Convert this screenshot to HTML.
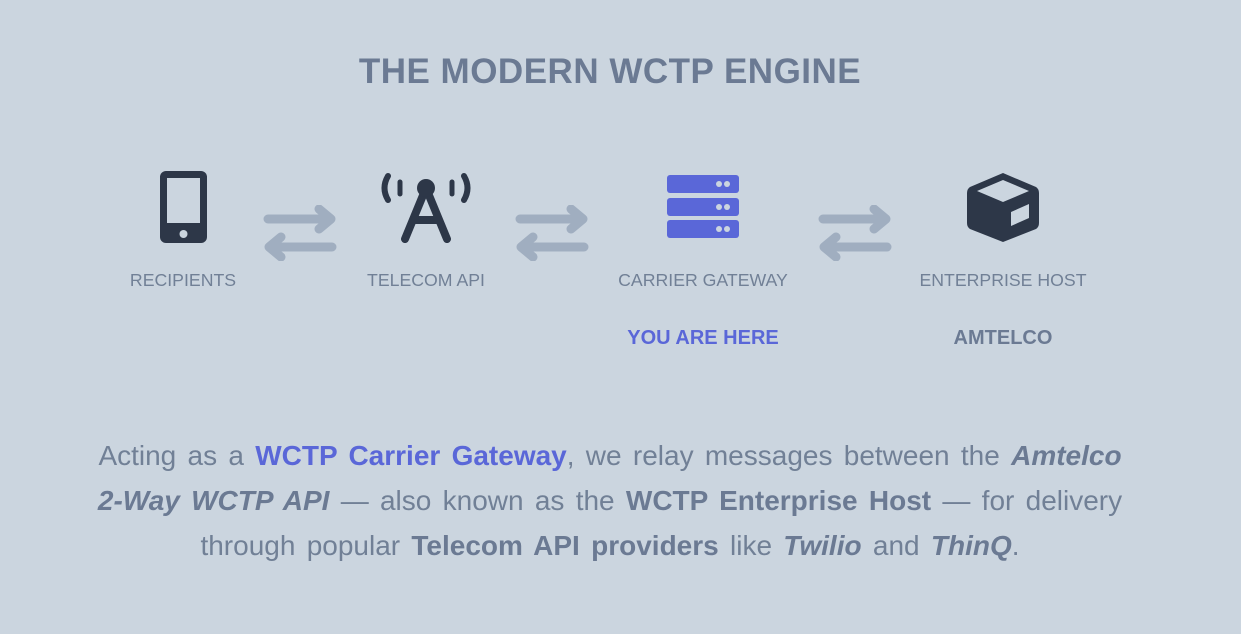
<!DOCTYPE html>
<html><head><meta charset="utf-8"><style>
body{margin:0;width:1241px;height:634px;background:#cbd5df;font-family:"Liberation Sans","DejaVu Sans",sans-serif;position:relative;overflow:hidden}
.t{position:absolute;left:0;width:1220px;text-align:center;top:52px;font-size:35px;font-weight:bold;color:#6b7a93;letter-spacing:0.5px}
.lab{position:absolute;top:270px;width:300px;text-align:center;font-size:17.7px;color:#718096}
.sub{position:absolute;top:327px;width:300px;text-align:center;font-size:20px;font-weight:bold}
svg{position:absolute}
.p{position:absolute;left:10px;width:1200px;top:433px;text-align:center;font-size:28px;word-spacing:3.5px;line-height:45px;color:#718096;white-space:nowrap}
.p b{color:#6b7a93}.p i{color:#6b7a93;font-weight:bold}
.p .hl{color:#5a67d8}
</style></head><body>
<div class="t">THE MODERN WCTP ENGINE</div>
<svg style="left:160px;top:171px" width="48" height="72"><rect x="0" y="0" width="47" height="72" rx="6" fill="#2d3748"/><rect x="7" y="7" width="33" height="45" fill="#cbd5df"/><circle cx="23.5" cy="63" r="4" fill="#cbd5df"/></svg>
<svg style="left:378px;top:170px" width="96" height="74" viewBox="0 0 96 74">
<g fill="none" stroke="#2d3748" stroke-linecap="round">
<path d="M10 6 Q3 18 10 30" stroke-width="6"/><path d="M86 6 Q93 18 86 30" stroke-width="6"/>
<path d="M22 12 L22 24" stroke-width="5"/><path d="M74 12 L74 24" stroke-width="5"/>
<path d="M48 18 L27 69 M48 18 L69 69 M36 50 L60 50" stroke-width="8"/></g>
<circle cx="48" cy="18" r="9" fill="#2d3748"/></svg>
<svg style="left:667px;top:175px" width="73" height="64">
<g fill="#5a67d8"><rect x="0" y="0" width="72" height="18" rx="3"/><rect x="0" y="23" width="72" height="18" rx="3"/><rect x="0" y="45" width="72" height="18" rx="3"/></g>
<g fill="#cbd5df"><circle cx="52" cy="9" r="3"/><circle cx="60" cy="9" r="3"/><circle cx="52" cy="32" r="3"/><circle cx="60" cy="32" r="3"/><circle cx="52" cy="54" r="3"/><circle cx="60" cy="54" r="3"/></g></svg>
<svg style="left:966px;top:171px" width="74" height="72" viewBox="0 0 74 72">
<path d="M37 2 L70 16 Q73 18 73 22 L73 52 Q73 56 70 58 L37 71 L4 58 Q1 56 1 52 L1 22 Q1 18 4 16 Z" fill="#2d3748"/>
<path d="M11 20 L37 9 L63 20 L37 31 Z" fill="#cbd5df"/>
<path d="M45 41 L63 33 L63 47 L45 55 Z" fill="#cbd5df"/></svg>
<svg style="left:262px;top:205px" width="76" height="56"><g stroke="#a0aec0" stroke-width="9" stroke-linecap="round" fill="none" stroke-linejoin="round"><path d="M6 14 H68 M57 4 L69 14 L57 24"/><path d="M70 42 H8 M19 32 L7 42 L19 52"/></g></svg>
<svg style="left:514px;top:205px" width="76" height="56"><g stroke="#a0aec0" stroke-width="9" stroke-linecap="round" fill="none" stroke-linejoin="round"><path d="M6 14 H68 M57 4 L69 14 L57 24"/><path d="M70 42 H8 M19 32 L7 42 L19 52"/></g></svg>
<svg style="left:817px;top:205px" width="76" height="56"><g stroke="#a0aec0" stroke-width="9" stroke-linecap="round" fill="none" stroke-linejoin="round"><path d="M6 14 H68 M57 4 L69 14 L57 24"/><path d="M70 42 H8 M19 32 L7 42 L19 52"/></g></svg>
<div class="lab" style="left:33px">RECIPIENTS</div>
<div class="lab" style="left:276px">TELECOM API</div>
<div class="lab" style="left:553px">CARRIER GATEWAY</div>
<div class="lab" style="left:853px">ENTERPRISE HOST</div>
<div class="sub" style="left:553px;color:#5a67d8">YOU ARE HERE</div>
<div class="sub" style="left:853px;color:#6b7a93">AMTELCO</div>
<div class="p">Acting as a <b class="hl">WCTP Carrier Gateway</b>, we relay messages between the <i>Amtelco</i><br><i>2-Way WCTP API</i> — also known as the <b>WCTP Enterprise Host</b> — for delivery<br>through popular <b>Telecom API providers</b> like <i>Twilio</i> and <i>ThinQ</i>.</div>
</body></html>
